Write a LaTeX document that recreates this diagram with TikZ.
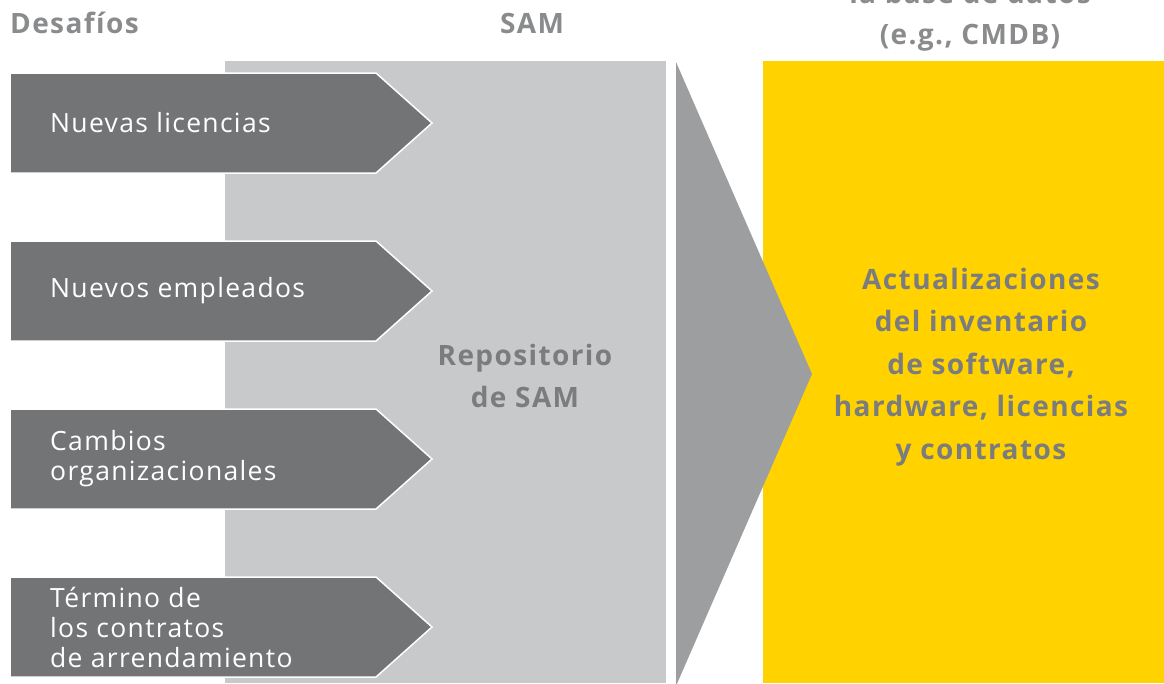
\documentclass[tikz,border=0pt]{standalone}
\usepackage{fontspec}
\setmainfont[LetterSpace=5]{Open Sans}
\usetikzlibrary{positioning}

\definecolor{chgrey}{HTML}{737476}
\definecolor{samgrey}{HTML}{C8C9CB}
\definecolor{tipgrey}{HTML}{9D9EA0}
\definecolor{cmdbyellow}{HTML}{FFD200}
\definecolor{headgrey}{HTML}{8A8B8D}
\definecolor{txtgrey}{HTML}{7B7C7E}

\begin{document}
\begin{tikzpicture}[x=1pt, y=-1pt,
  challenge/.style={fill=chgrey, draw=white, line width=1.5pt, line join=miter},
  chtext/.style={anchor=west, text=white, align=left, inner sep=0pt,
    font=\fontsize{26.5}{30}\selectfont},
  head/.style={text=headgrey, inner sep=0pt, font=\bfseries\fontsize{28}{41}\selectfont},
  bigtext/.style={text=txtgrey, align=center, inner sep=0pt,
    font=\bfseries\fontsize{28}{42.5}\selectfont}]
  \useasboundingbox (0,0) rectangle (1164,683);
  \clip (0,0) rectangle (1164,683);

  % columns
  \fill[samgrey] (225,61) rectangle (666,683);
  \fill[cmdbyellow] (763,61) rectangle (1164,683);
  \fill[tipgrey] (676,62) -- (812,374) -- (676,686) -- cycle;

  % headers
  \node[head, anchor=base west] (hdes) at (10,33) {Desafíos};
  \node[head, anchor=base] (hsam) at (532,33) {SAM};
  \node[head, anchor=base] (hcmdb) at (970,44) {(e.g., CMDB)};
  \node[head, anchor=base] (hbase) at (970,3) {la base de datos};

  % challenges
  \foreach \y/\txt [count=\i] in {123/{Nuevas licencias},
      291/{Nuevos empleados},
      459/{Cambios\\organizacionales},
      627/{Término de\\los contratos\\de arrendamiento}} {
    \draw[challenge] (10,\y-50) -- (376,\y-50) -- (432,\y) -- (376,\y+50) -- (10,\y+50) -- cycle;
    \node[chtext] (ch\i) at (50,\y) {\txt};
  }

  \node[bigtext] (repo) at (525,376) {Repositorio\\de SAM};
  \node[bigtext] (upd) at (981,367) {Actualizaciones\\del inventario\\de software,\\hardware, licencias\\y contratos};
\end{tikzpicture}
\end{document}
